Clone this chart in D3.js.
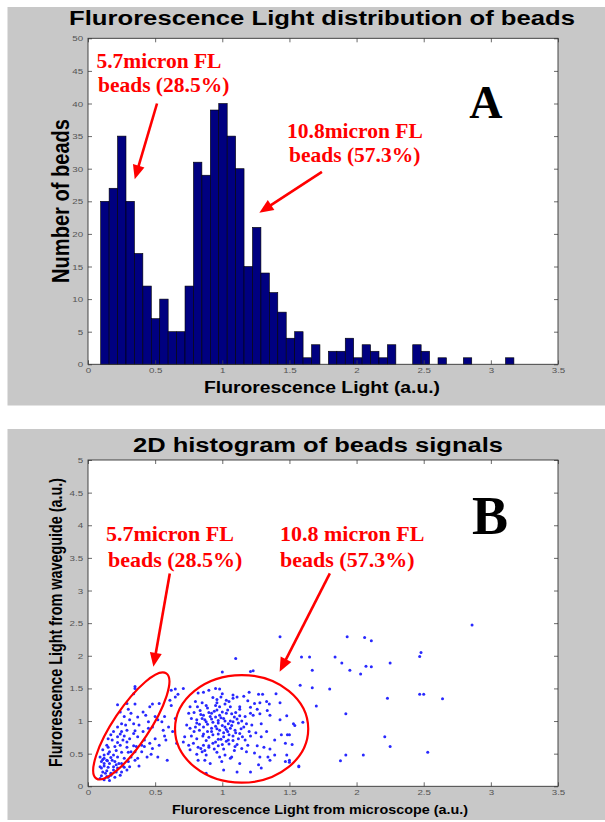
<!DOCTYPE html>
<html><head><meta charset="utf-8">
<script src="https://cdn.jsdelivr.net/npm/d3@7"></script>
<style>html,body{margin:0;padding:0;background:#fff}</style>
</head><body>
<svg id="c" width="605" height="822"></svg>
<script>
// ---------- DATA ----------
// Panel A: histogram counts (49 equal bins)
const histCounts = [25,27,35,25,17,12,7,10,5,5,12,31,29,39,40,35,30,15,21,14,11,8,4,5,1,3,0,2,2,4,1,3,2,1,3,0,0,3,2,0,1,0,0,1,0,0,0,0,1];
const histStart = 0.0945;
const histBinWidth = 0.0628;
const xTicksA = [0,0.5,1,1.5,2,2.5,3,3.5];
const yTicksA = [0,5,10,15,20,25,30,35,40,45,50];

// Panel B: scatter points [microscope, waveguide]
const smallCluster = [[0.35,1.50],[0.34,1.42],[0.22,1.25],[0.29,1.27],[0.35,1.26],[0.24,1.14],[0.30,1.18],[0.32,1.12],[0.41,1.14],[0.46,1.22],[0.27,1.07],[0.31,1.02],[0.37,1.06],[0.43,1.09],[0.25,0.96],[0.28,0.94],[0.22,0.91],[0.34,0.96],[0.38,0.94],[0.45,0.99],[0.19,0.84],[0.25,0.84],[0.29,0.86],[0.35,0.85],[0.41,0.84],[0.15,0.73],[0.18,0.71],[0.22,0.76],[0.26,0.71],[0.31,0.73],[0.37,0.76],[0.14,0.63],[0.20,0.61],[0.24,0.63],[0.29,0.60],[0.34,0.62],[0.11,0.56],[0.16,0.53],[0.21,0.55],[0.25,0.52],[0.30,0.52],[0.09,0.45],[0.12,0.48],[0.17,0.44],[0.22,0.45],[0.27,0.43],[0.32,0.45],[0.10,0.38],[0.14,0.40],[0.16,0.35],[0.20,0.38],[0.25,0.35],[0.30,0.38],[0.35,0.40],[0.09,0.30],[0.12,0.31],[0.15,0.29],[0.19,0.30],[0.22,0.28],[0.26,0.31],[0.31,0.30],[0.11,0.22],[0.14,0.24],[0.17,0.20],[0.21,0.22],[0.25,0.22],[0.29,0.25],[0.10,0.16],[0.14,0.15],[0.17,0.17],[0.20,0.14],[0.24,0.17],[0.12,0.10],[0.16,0.09],[0.09,0.12],[0.11,0.41],[0.12,0.43],[0.15,0.50],[0.19,0.48],[0.145,0.39],[0.18,0.40],[0.21,0.33],[0.27,0.29],[0.10,0.28],[0.13,0.20],[0.15,0.14],[0.19,0.25],[0.23,0.35],[0.32,0.53],[0.36,0.61],[0.29,0.68],[0.24,0.80],[0.17,0.79],[0.27,0.77],[0.22,0.67],[0.34,0.81],[0.15,0.60],[0.12,0.35],[0.35,0.53],[0.35,1.53],[0.37,0.43],[0.38,0.31]];
const betweenPts = [[0.48,1.26],[0.53,1.27],[0.50,1.07],[0.48,0.91],[0.52,1.02],[0.45,0.89],[0.42,0.71],[0.40,0.63],[0.46,0.66],[0.65,1.49],[0.67,1.41],[0.71,1.50],[0.61,1.32],[0.62,1.24],[0.57,1.07],[0.55,0.99],[0.65,1.04],[0.60,0.91],[0.56,0.86],[0.63,0.84],[0.57,0.77],[0.50,0.73],[0.53,0.63],[0.58,0.71],[0.66,0.66],[0.48,0.58],[0.44,0.45],[0.59,0.40],[0.47,0.49],[0.52,0.45],[0.40,0.53],[0.42,0.61],[0.65,1.37],[0.62,1.47]];
const largeCluster = [[0.95,1.50],[0.98,1.49],[0.90,1.47],[0.86,1.44],[0.82,1.43],[1.00,1.42],[1.08,1.40],[1.20,1.44],[1.27,1.41],[1.30,1.41],
[0.80,1.30],[0.85,1.28],[0.93,1.36],[0.96,1.33],[0.99,1.37],[1.03,1.32],[1.08,1.35],[1.11,1.37],[1.16,1.38],[1.19,1.31],[1.24,1.27],[1.28,1.28],[1.33,1.30],[1.35,1.26],[1.43,1.28],[0.76,1.22],[0.815,1.22],[0.88,1.24],[0.95,1.24],[0.98,1.22],[1.02,1.26],[1.06,1.22],[1.13,1.22],[1.21,1.21],[1.26,1.18],[1.335,1.16],
[0.75,1.12],[0.79,1.13],[0.835,1.16],[0.86,1.09],[0.90,1.13],[0.92,1.12],[0.96,1.17],[0.98,1.09],[1.00,1.14],[1.03,1.12],[1.07,1.11],[1.10,1.13],[1.13,1.08],[1.17,1.07],[1.21,1.12],[1.23,1.09],[1.28,1.11],[1.355,1.09],[1.48,1.08],[0.77,1.04],[0.81,1.02],[0.85,1.04],[0.88,0.99],[0.92,1.03],[0.95,1.06],[0.97,1.01],[1.01,1.04],[1.045,0.96],[1.08,0.99],[1.11,1.03],[1.145,1.00],[1.18,0.96],[1.22,0.94],[1.29,0.96],[1.43,1.02],[1.53,0.96],
[0.735,0.94],[0.76,0.89],[0.80,0.91],[0.83,0.86],[0.86,0.91],[0.89,0.84],[0.92,0.89],[0.95,0.92],[0.98,0.86],[1.02,0.91],[1.04,0.84],[1.06,0.89],[1.095,0.86],[1.13,0.81],[1.16,0.91],[1.20,0.84],[1.25,0.82],[1.33,0.84],[1.44,0.79],[1.485,0.79],[0.72,0.76],[0.77,0.77],[0.81,0.73],[0.855,0.77],[0.90,0.75],[0.93,0.79],[0.97,0.72],[1.01,0.76],[1.045,0.71],[1.08,0.77],[1.12,0.73],[1.17,0.71],[1.21,0.77],[1.29,0.76],[1.39,0.71],
[0.71,0.68],[0.75,0.63],[0.785,0.66],[0.82,0.60],[0.86,0.63],[0.90,0.60],[0.93,0.66],[0.97,0.62],[1.01,0.57],[1.05,0.65],[1.095,0.61],[1.145,0.58],[1.19,0.63],[1.26,0.62],[1.31,0.60],[1.355,0.57],[1.47,0.66],[0.76,0.56],[0.81,0.49],[0.85,0.53],[0.88,0.48],[0.96,0.52],[1.02,0.48],[1.07,0.45],[1.18,0.53],[1.24,0.51],[1.28,0.45],[1.34,0.45],[1.39,0.48],[1.48,0.48],
[0.82,0.40],[0.87,0.40],[0.91,0.35],[0.996,0.38],[1.06,0.43],[1.13,0.35],[1.27,0.33],[1.29,0.28],[1.355,0.40],[1.50,0.40],[1.57,0.30],[1.01,0.25],[1.11,0.22],[0.88,0.20],[1.21,0.22],[1.47,0.38],
[0.84,1.10],[0.87,1.02],[0.89,0.95],[0.91,1.07],[0.93,0.98],[0.94,1.15],[0.96,0.88],[0.97,0.97],[0.99,1.05],[1.00,0.93],[1.01,0.82],[1.02,1.00],[1.03,0.87],[1.04,1.17],[1.05,0.79],[1.06,1.00],[1.07,0.93],[1.09,1.06],[1.10,0.82],[1.12,0.97],[0.83,0.95],[0.86,0.80],[0.88,0.70],[0.90,0.62],[0.92,0.84],[0.95,0.68],[0.97,0.80],[0.99,0.72],[1.00,0.64],[1.03,0.69],[1.08,0.70],[1.11,0.64],[1.14,0.88],[1.15,0.76],[0.79,0.84],[0.81,0.97],[0.84,0.58],[0.87,0.55],[0.94,0.57],[0.98,0.45],[1.09,0.55],[1.13,1.18],[0.96,1.28],[0.89,1.20],[1.05,1.30],[1.40,1.42]];
const outlierPts = [[2.86,2.47],[1.93,2.29],[2.06,2.28],[2.11,2.23],[2.48,2.05],[2.47,1.99],[1.59,1.98],[1.65,1.98],[1.84,1.98],[1.89,1.89],[2.25,1.89],[1.67,1.78],[1.95,1.78],[2.07,1.84],[2.11,1.83],[2.03,1.72],[1.58,1.55],[1.67,1.51],[1.80,1.49],[2.23,1.35],[2.47,1.41],[2.50,1.41],[2.64,1.34],[1.70,1.23],[1.92,1.11],[1.54,0.93],[1.60,0.98],[1.50,0.79],[1.52,0.64],[2.21,0.76],[2.25,0.61],[2.53,0.52],[2.05,0.48],[1.92,0.48],[1.88,0.39],[1.50,0.37],[1.57,0.31],[1.00,1.75],[1.21,1.76],[1.23,1.77],[1.10,1.96],[1.43,2.29]];
const xTicksB = [0,0.5,1,1.5,2,2.5,3,3.5];
const yTicksB = [0,0.5,1,1.5,2,2.5,3,3.5,4,4.5,5];

// ---------- DRAWING ----------
const svg = d3.select("#c");
const SX = 1.22;   // horizontal stretch of the original MATLAB figure
const SANS = "'Liberation Sans', Arial, Helvetica, sans-serif";
const SERIF = "'Liberation Serif', 'Times New Roman', serif";
const GRAY = "#c8c8c8";
const RED = "#ff0000";

// panel backgrounds
svg.append("rect").attr("x",7.5).attr("y",7).attr("width",597.5).attr("height",398.5).attr("fill",GRAY);
svg.append("rect").attr("x",7.5).attr("y",429).attr("width",597.5).attr("height",391).attr("fill",GRAY);

const xA = d3.scaleLinear().domain([0,3.5]).range([88,558]);
const yA = d3.scaleLinear().domain([0,50]).range([364.3,38.3]);
const xB = d3.scaleLinear().domain([0,3.5]).range([88,558]);
const yB = d3.scaleLinear().domain([0,5]).range([786.3,460]);

function mText(x, y, str, size, opts = {}) {
  const t = svg.append("text")
    .attr("transform", `translate(${x},${y}) scale(${SX},1)` + (opts.rotate ? " rotate(-90)" : ""))
    .attr("text-anchor", "middle")
    .attr("font-family", SANS).attr("font-weight", "bold")
    .attr("font-size", size).attr("fill", "#000").text(str);
  if (opts.len) t.attr("textLength", opts.rotate ? opts.len : opts.len / SX).attr("lengthAdjust", "spacingAndGlyphs");
  return t;
}

function plotFrame(x, y) {
  svg.append("rect").attr("x", x.range()[0]).attr("y", y.range()[1])
    .attr("width", x.range()[1]-x.range()[0]).attr("height", y.range()[0]-y.range()[1])
    .attr("fill", "#fff");
}

function axes(x, y, xt, yt) {
  const fmt = d => String(d);
  const styleTicks = g => {
    g.select(".domain").remove();
    g.selectAll(".tick line").attr("stroke", "#444").attr("stroke-width", 0.8);
    g.selectAll(".tick text").attr("font-family", SANS).attr("font-size", 8).attr("fill", "#555");
  };
  const b = svg.append("g").attr("transform", `translate(0,${y.range()[0]})`)
    .call(d3.axisBottom(x).tickValues(xt).tickSize(-4).tickPadding(3).tickFormat(fmt)).call(styleTicks);
  b.selectAll(".tick text").attr("transform", `scale(${SX},1)`);
  svg.append("g").attr("transform", `translate(0,${y.range()[1]})`)
    .call(d3.axisTop(x).tickValues(xt).tickSize(-4).tickFormat("")).call(styleTicks);
  const l = svg.append("g").attr("transform", `translate(${x.range()[0]},0)`)
    .call(d3.axisLeft(y).tickValues(yt).tickSize(-4).tickPadding(4).tickFormat(fmt)).call(styleTicks);
  l.selectAll(".tick text").attr("transform", `scale(${SX},1)`);
  svg.append("g").attr("transform", `translate(${x.range()[1]},0)`)
    .call(d3.axisRight(y).tickValues(yt).tickSize(-4).tickFormat("")).call(styleTicks);
  svg.append("rect").attr("x", x.range()[0]).attr("y", y.range()[1])
    .attr("width", x.range()[1]-x.range()[0]).attr("height", y.range()[0]-y.range()[1])
    .attr("fill", "none").attr("stroke", "#333").attr("stroke-width", 0.9);
}

function arrow(x1, y1, x2, y2) {
  const dx = x2-x1, dy = y2-y1, L = Math.hypot(dx, dy), ux = dx/L, uy = dy/L;
  const hl = 14, hw = 6;
  const bx = x2 - ux*hl, by = y2 - uy*hl;
  svg.append("line").attr("x1", x1).attr("y1", y1).attr("x2", bx+ux*2).attr("y2", by+uy*2)
    .attr("stroke", RED).attr("stroke-width", 2.6);
  svg.append("path").attr("d", `M${x2},${y2}L${bx - uy*hw},${by + ux*hw}L${bx + uy*hw},${by - ux*hw}Z`)
    .attr("fill", RED);
}

function rText(x, y, str, size, anchor = "start") {
  svg.append("text").attr("x", x).attr("y", y).attr("text-anchor", anchor)
    .attr("font-family", SERIF).attr("font-weight", "bold").attr("font-size", size)
    .attr("fill", RED).text(str);
}

// ----- Panel A -----
plotFrame(xA, yA);
const bw = xA(histBinWidth) - xA(0);
svg.append("g").selectAll("rect").data(histCounts.map((c, i) => ({c, x0: histStart + i*histBinWidth})).filter(d => d.c > 0))
  .join("rect")
  .attr("x", d => xA(d.x0)).attr("width", bw)
  .attr("y", d => yA(d.c)).attr("height", d => yA(0) - yA(d.c))
  .attr("fill", "#000080").attr("stroke", "#000").attr("stroke-width", 0.6);
axes(xA, yA, xTicksA, yTicksA);

mText(322, 25, "Flurorescence Light distribution of beads", 21, {len: 506});
mText(322, 392.7, "Flurorescence Light (a.u.)", 16.5, {len: 236});
mText(68.5, 201, "Number of beads", 20, {rotate: true, len: 164});

rText(xA(0.063), yA(45.4), "5.7micron FL", 21.5);
rText(xA(0.074), yA(41.8), "beads (28.5%)", 21.5);
rText(xA(1.482), yA(34.7), "10.8micron FL", 21.5);
rText(xA(1.497), yA(31.1), "beads (57.3%)", 21.5);
arrow(xA(0.514), yA(40.0), xA(0.348), yA(28.4));
arrow(xA(1.742), yA(29.5), xA(1.276), yA(23.25));
svg.append("text").attr("x", xA(2.963)).attr("y", yA(37.7)).attr("text-anchor", "middle")
  .attr("font-family", SERIF).attr("font-weight", "bold").attr("font-size", 46).attr("fill", "#000").text("A");

// ----- Panel B -----
plotFrame(xB, yB);
const allPts = [...smallCluster, ...betweenPts, ...largeCluster, ...outlierPts];
svg.append("g").selectAll("circle").data(allPts).join("circle")
  .attr("cx", d => xB(d[0])).attr("cy", d => yB(d[1])).attr("r", 1.5)
  .attr("fill", "#2828ff");
axes(xB, yB, xTicksB, yTicksB);

// ellipses
{
  const p1 = [xB(0.062), yB(0.12)], p2 = [xB(0.583), yB(1.73)];
  const cx = (p1[0]+p2[0])/2, cy = (p1[1]+p2[1])/2;
  const ang = Math.atan2(p2[1]-p1[1], p2[0]-p1[0]) * 180/Math.PI;
  const rx = Math.hypot(p2[0]-p1[0], p2[1]-p1[1]) / 2;
  svg.append("ellipse").attr("cx", 0).attr("cy", 0).attr("rx", rx).attr("ry", 18)
    .attr("transform", `translate(${cx},${cy}) rotate(${ang})`)
    .attr("fill", "none").attr("stroke", RED).attr("stroke-width", 2.2);
  svg.append("ellipse").attr("cx", xB(1.144)).attr("cy", yB(0.88))
    .attr("rx", xB(1.64) - xB(1.144)).attr("ry", yB(0.055) - yB(0.88))
    .attr("fill", "none").attr("stroke", RED).attr("stroke-width", 2.2);
}

mText(318, 451.5, "2D histogram of beads signals", 21, {len: 370});
mText(320, 814, "Flurorescence Light from microscope (a.u.)", 12.5, {len: 296});
mText(62, 622.5, "Flurorescence Light from waveguide (a.u.)", 14.4, {rotate: true, len: 289});

rText(xB(0.134), yB(3.761), "5.7micron FL", 22);
rText(xB(0.149), yB(3.363), "beads (28.5%)", 22);
rText(xB(1.43), yB(3.761), "10.8 micron FL", 22);
rText(xB(1.43), yB(3.363), "beads (57.3%)", 22);
arrow(xB(0.609), yB(3.262), xB(0.487), yB(1.832));
arrow(xB(1.801), yB(3.262), xB(1.427), yB(1.755));
svg.append("text").attr("x", xB(2.993)).attr("y", yB(3.864)).attr("text-anchor", "middle")
  .attr("font-family", SERIF).attr("font-weight", "bold").attr("font-size", 54).attr("fill", "#000").text("B");
</script>
</body></html>
